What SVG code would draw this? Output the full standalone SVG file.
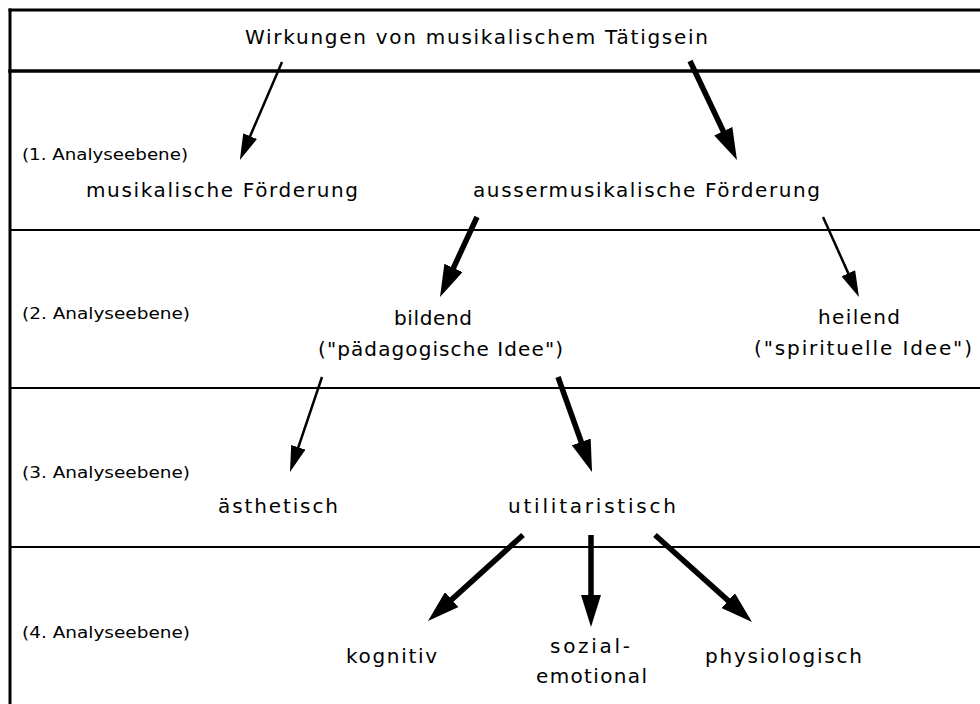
<svg xmlns="http://www.w3.org/2000/svg" width="980" height="704" viewBox="0 0 980 704">
<style>
.frame{stroke:#000;fill:none;stroke-linecap:square}
.t{font-family:"DejaVu Sans","Liberation Sans",sans-serif;font-size:20px;fill:#000}
.lv{font-family:"DejaVu Sans","Liberation Sans",sans-serif;font-size:16px;fill:#000}
.thin{stroke:#000;stroke-width:2.5;fill:none;marker-end:url(#hThin)}
.thick{stroke:#000;stroke-width:5.5;fill:none;marker-end:url(#hThick)}
</style>
<defs>
<marker id="hThin" markerUnits="userSpaceOnUse" markerWidth="26" markerHeight="15" refX="10" refY="7.5" orient="auto">
<path d="M0,0 L26,7.5 L0,15 z" fill="#000"/>
</marker>
<marker id="hThick" markerUnits="userSpaceOnUse" markerWidth="32" markerHeight="20" refX="12" refY="10" orient="auto">
<path d="M0,0 L32,10 L0,20 z" fill="#000"/>
</marker>
</defs>
<rect width="980" height="704" fill="#fff"/>
<g id="frame">
<line class="frame" x1="10" y1="10" x2="10" y2="704" stroke-width="3"/>
<line class="frame" x1="10" y1="10" x2="980" y2="10" stroke-width="3"/>
<line class="frame" x1="10" y1="71" x2="980" y2="71" stroke-width="3.5"/>
<line class="frame" x1="10" y1="230" x2="980" y2="230" stroke-width="2"/>
<line class="frame" x1="10" y1="388" x2="980" y2="388" stroke-width="2"/>
<line class="frame" x1="10" y1="547" x2="980" y2="547" stroke-width="2"/>
</g>
<g id="levels">
<text class="lv" x="22" y="160" textLength="166" lengthAdjust="spacingAndGlyphs">(1. Analyseebene)</text>
<text class="lv" x="22" y="319" textLength="168" lengthAdjust="spacingAndGlyphs">(2. Analyseebene)</text>
<text class="lv" x="22" y="478" textLength="168" lengthAdjust="spacingAndGlyphs">(3. Analyseebene)</text>
<text class="lv" x="22" y="638" textLength="168" lengthAdjust="spacingAndGlyphs">(4. Analyseebene)</text>
</g>
<g id="n-root"><text class="t" x="245" y="44" textLength="463" lengthAdjust="spacing">Wirkungen von musikalischem Tätigsein</text></g>
<g id="n-musikalisch"><text class="t" x="86" y="197" textLength="272" lengthAdjust="spacing">musikalische Förderung</text></g>
<g id="n-aussermusikalisch"><text class="t" x="473" y="197" textLength="347" lengthAdjust="spacing">aussermusikalische Förderung</text></g>
<g id="n-bildend">
<text class="t" x="394" y="325" textLength="78" lengthAdjust="spacing">bildend</text>
<text class="t" x="318" y="356" textLength="245" lengthAdjust="spacing">("pädagogische Idee")</text>
</g>
<g id="n-heilend">
<text class="t" x="818" y="324" textLength="82" lengthAdjust="spacing">heilend</text>
<text class="t" x="754" y="355" textLength="218" lengthAdjust="spacing">("spirituelle Idee")</text>
</g>
<g id="n-aesthetisch"><text class="t" x="218" y="513" textLength="120" lengthAdjust="spacing">ästhetisch</text></g>
<g id="n-utilitaristisch"><text class="t" x="508" y="513" textLength="168" lengthAdjust="spacing">utilitaristisch</text></g>
<g id="n-kognitiv"><text class="t" x="346" y="663" textLength="91" lengthAdjust="spacing">kognitiv</text></g>
<g id="n-sozial">
<text class="t" x="550" y="653" textLength="80" lengthAdjust="spacing">sozial-</text>
<text class="t" x="536" y="683" textLength="111" lengthAdjust="spacing">emotional</text>
</g>
<g id="n-physiologisch"><text class="t" x="705" y="663" textLength="157" lengthAdjust="spacing">physiologisch</text></g>
<g id="connectors">
<line class="thin" x1="282" y1="62" x2="246.2" y2="145.3"/>
<line class="thick" x1="690" y1="61" x2="728.4" y2="142"/>
<line class="thick" x1="477" y1="217" x2="448.4" y2="278.8"/>
<line class="thin" x1="823" y1="217" x2="852.4" y2="282.4"/>
<line class="thin" x1="322" y1="377" x2="295.1" y2="456.8"/>
<line class="thick" x1="558" y1="377" x2="585.3" y2="453.2"/>
<line class="thick" x1="523" y1="535" x2="442.8" y2="607.6"/>
<line class="thick" x1="591" y1="535" x2="591" y2="607"/>
<line class="thick" x1="655" y1="535" x2="737.1" y2="608.6"/>
</g>
</svg>
